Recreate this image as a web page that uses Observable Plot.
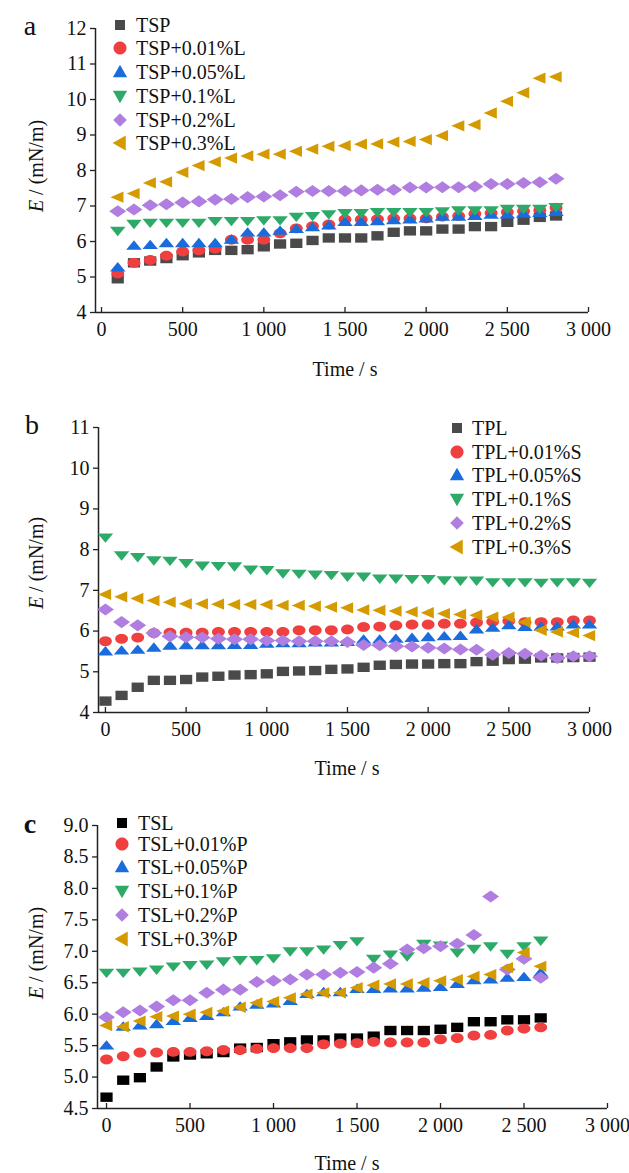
<!DOCTYPE html>
<html><head><meta charset="utf-8">
<script src="https://cdn.jsdelivr.net/npm/d3@7"></script>
<script src="https://cdn.jsdelivr.net/npm/@observablehq/plot@0.6"></script>
<style>
body{margin:0;background:#fff;}
#fig{position:relative;width:629px;height:1173px;font-family:"Liberation Serif","Times New Roman",serif;color:#111;overflow:hidden;}
.panel{position:absolute;left:0;}
.lbl{position:absolute;font-size:20px;white-space:nowrap;transform:translate(-50%,-50%);}
.ylbl{position:absolute;font-size:20px;white-space:nowrap;transform:translate(-50%,-50%) rotate(-90deg);}
.letter{position:absolute;font-size:28px;line-height:1;transform:translate(-50%,-50%);}
.row{position:absolute;display:flex;align-items:center;white-space:nowrap;font-size:20px;line-height:1;transform:translateY(-50%);}
.row svg{flex:none;}
</style>
</head><body><div id="fig"></div>
<script>
// ---------- data ----------
const timesA = [100,200,300,400,500,600,700,800,900,1000,1100,1200,1300,1400,1500,1600,1700,1800,1900,2000,2100,2200,2300,2400,2500,2600,2700,2800];
const namesA = ["TSP","TSP+0.01%L","TSP+0.05%L","TSP+0.1%L","TSP+0.2%L","TSP+0.3%L"];
const aTSP  = [4.95,5.4,5.45,5.52,5.6,5.68,5.75,5.75,5.77,5.85,5.93,5.95,6.03,6.1,6.1,6.1,6.16,6.26,6.3,6.3,6.35,6.35,6.42,6.42,6.54,6.6,6.68,6.72];
const aL001 = [5.1,5.4,5.48,5.6,5.72,5.75,5.8,6.05,6.05,6.05,6.23,6.37,6.43,6.48,6.62,6.62,6.63,6.65,6.65,6.65,6.7,6.72,6.78,6.8,6.83,6.85,6.88,6.95];
const aL005 = [5.27,5.88,5.9,5.95,5.95,5.95,5.95,6.05,6.25,6.25,6.3,6.35,6.4,6.45,6.55,6.55,6.57,6.6,6.62,6.65,6.7,6.7,6.72,6.75,6.76,6.78,6.8,6.83];
const aL01  = [6.3,6.5,6.53,6.53,6.53,6.53,6.58,6.58,6.58,6.6,6.6,6.7,6.72,6.77,6.8,6.8,6.83,6.83,6.83,6.83,6.85,6.88,6.88,6.88,6.92,6.92,6.92,6.97];
const aL02  = [6.85,6.9,7.02,7.05,7.1,7.13,7.18,7.2,7.25,7.27,7.3,7.4,7.42,7.42,7.42,7.44,7.46,7.46,7.52,7.52,7.53,7.53,7.55,7.62,7.62,7.65,7.67,7.77];
const aL03  = [7.25,7.35,7.65,7.68,7.95,8.14,8.24,8.35,8.41,8.46,8.46,8.54,8.6,8.68,8.7,8.74,8.75,8.8,8.82,8.87,8.98,9.26,9.29,9.62,9.95,10.19,10.6,10.64];

const timesB = [0,100,200,300,400,500,600,700,800,900,1000,1100,1200,1300,1400,1500,1600,1700,1800,1900,2000,2100,2200,2300,2400,2500,2600,2700,2800,2900,3000];
const namesB = ["TPL","TPL+0.01%S","TPL+0.05%S","TPL+0.1%S","TPL+0.2%S","TPL+0.3%S"];
const bTPL  = [4.28,4.42,4.62,4.79,4.79,4.81,4.87,4.89,4.92,4.93,4.95,5.01,5.02,5.03,5.06,5.07,5.11,5.16,5.18,5.19,5.19,5.2,5.2,5.25,5.26,5.3,5.31,5.34,5.34,5.35,5.36];
const bS001 = [5.75,5.81,5.84,5.95,5.96,5.96,5.96,5.98,5.98,5.98,5.98,5.98,6.02,6.02,6.02,6.04,6.1,6.11,6.14,6.16,6.16,6.18,6.18,6.21,6.23,6.25,6.22,6.22,6.22,6.26,6.26];
const bS005 = [5.5,5.52,5.54,5.59,5.64,5.65,5.65,5.65,5.66,5.66,5.69,5.7,5.7,5.72,5.72,5.73,5.79,5.79,5.81,5.83,5.85,5.87,5.88,6.04,6.08,6.14,6.1,6.11,6.11,6.16,6.16];
const bS01  = [8.3,7.86,7.82,7.74,7.73,7.67,7.61,7.6,7.59,7.51,7.5,7.42,7.41,7.39,7.38,7.34,7.34,7.29,7.29,7.28,7.28,7.25,7.24,7.24,7.2,7.2,7.2,7.19,7.2,7.2,7.19];
const bS02  = [6.53,6.22,6.14,5.95,5.87,5.85,5.84,5.81,5.8,5.8,5.77,5.77,5.75,5.75,5.75,5.73,5.66,5.65,5.63,5.62,5.59,5.57,5.55,5.54,5.42,5.46,5.44,5.4,5.34,5.38,5.38];
const bS03  = [6.9,6.84,6.8,6.75,6.71,6.67,6.67,6.66,6.65,6.65,6.65,6.63,6.63,6.61,6.59,6.57,6.52,6.51,6.49,6.47,6.45,6.43,6.41,6.39,6.34,6.34,6.22,6.02,5.98,5.96,5.89];

const timesC = [0,100,200,300,400,500,600,700,800,900,1000,1100,1200,1300,1400,1500,1600,1700,1800,1900,2000,2100,2200,2300,2400,2500,2600];
const namesC = ["TSL","TSL+0.01%P","TSL+0.05%P","TSL+0.1%P","TSL+0.2%P","TSL+0.3%P"];
const cTSL  = [4.68,4.95,4.99,5.16,5.32,5.35,5.37,5.39,5.46,5.47,5.53,5.56,5.59,5.59,5.62,5.62,5.65,5.74,5.74,5.74,5.76,5.79,5.88,5.88,5.91,5.91,5.94];
const cP001 = [5.28,5.33,5.39,5.39,5.4,5.4,5.41,5.43,5.43,5.45,5.46,5.46,5.46,5.52,5.53,5.54,5.56,5.55,5.55,5.55,5.6,5.62,5.66,5.67,5.74,5.77,5.79];
const cP005 = [5.5,5.8,5.82,5.84,5.89,5.94,5.97,6.03,6.12,6.15,6.17,6.21,6.32,6.35,6.35,6.4,6.4,6.41,6.41,6.42,6.43,6.48,6.54,6.55,6.58,6.59,6.66];
const cP01  = [6.66,6.66,6.68,6.71,6.76,6.78,6.79,6.84,6.86,6.86,6.89,7.0,7.0,7.03,7.1,7.16,6.88,6.95,6.92,7.12,7.09,6.98,7.04,7.08,6.96,7.08,7.17];
const cP02  = [5.95,6.03,6.06,6.12,6.22,6.22,6.34,6.39,6.39,6.51,6.53,6.55,6.63,6.63,6.66,6.67,6.74,6.8,7.03,7.05,7.08,7.12,7.26,7.87,6.71,6.88,6.58];
const cP03  = [5.82,5.8,5.89,5.96,5.97,6.0,6.03,6.05,6.11,6.18,6.2,6.26,6.32,6.34,6.34,6.42,6.46,6.48,6.48,6.5,6.53,6.55,6.6,6.63,6.74,6.98,6.76];

const xTicks = [0,500,1000,1500,2000,2500,3000];
const yTicksA = [4,5,6,7,8,9,10,11,12];
const yTicksB = [4,5,6,7,8,9,10,11];
const yTicksC = [4.5,5.0,5.5,6.0,6.5,7.0,7.5,8.0,8.5,9.0];

// ---------- styles ----------
const shapes = ["square","circle","up","down","diamond","left"];
const colorsAB = ["#4a4a4a","#ef3f3f","#1a6cdc","#2eaa68","#b07de0","#d49a00"];
const colorsC  = ["#000000","#ef3f3f","#1a6cdc","#2eaa68","#b07de0","#d49a00"];

function makeSym(shape, sx, legend) {
  return {draw(ctx, size) {
    const r = Math.sqrt(size / Math.PI);
    const P = pts => {
      ctx.moveTo(pts[0][0]*r*sx, pts[0][1]*r);
      for (let i = 1; i < pts.length; i++) ctx.lineTo(pts[i][0]*r*sx, pts[i][1]*r);
      ctx.closePath();
    };
    const tw = legend ? 1.15 : 1.27, dw = legend ? 1.1 : 1.39, dh = legend ? 1.1 : 1.28;
    if (shape === "square") P([[-1,-1],[1,-1],[1,1],[-1,1]]);
    else if (shape === "circle") { const pts = []; for (let i = 0; i < 40; i++) { const a = 2*Math.PI*i/40; pts.push([1.05*Math.cos(a), 1.05*Math.sin(a)]); } P(pts); }
    else if (shape === "up") P([[0,-1.15],[tw,0.85],[-tw,0.85]]);
    else if (shape === "down") P([[0,1.15],[tw,-0.85],[-tw,-0.85]]);
    else if (shape === "diamond") P([[0,-dh],[dw,0],[0,dh],[-dw,0]]);
    else if (shape === "left") P([[-1.2,0],[0.93,-1.2],[0.93,1.2]]);
  }};
}
const symData = Object.fromEntries(shapes.map(s => [s, makeSym(s, 1.3, false)]));
const symLeg  = Object.fromEntries(shapes.map(s => [s, makeSym(s, 1, true)]));

const fmtX = d => d >= 1000 ? d3.format(",")(d).replace(",", " ") : String(d);

const fig = document.getElementById("fig");
function addDiv(cls, html, x, y) {
  const d = document.createElement("div");
  d.className = cls; d.innerHTML = html;
  d.style.left = x + "px"; d.style.top = y + "px";
  fig.appendChild(d); return d;
}

function panel(cfg) {
  const marks = [
    Plot.ruleX([cfg.xDomain[0]], {stroke: "#222", strokeWidth: 1.5}),
    Plot.ruleY([cfg.yDomain[0]], {stroke: "#222", strokeWidth: 1.5}),
    Plot.axisX({ticks: xTicks, tickSize: -5, tickPadding: 14, tickFormat: fmtX, label: null, stroke: "#222", strokeWidth: 1.3, fill: "#111"}),
    Plot.axisY({ticks: cfg.yTicks, tickSize: 5, tickPadding: 4, tickFormat: cfg.yFmt, label: null, stroke: "#222", strokeWidth: 1.3, fill: "#111"})
  ];
  cfg.series.forEach((vals, i) => {
    const rows = vals.map((v, j) => ({t: cfg.times[j], e: v}));
    marks.push(Plot.dot(rows, {x: "t", y: "e", symbol: symData[shapes[i]], fill: cfg.colors[i], r: 4.7, stroke: "none"}));
  });
  const svg = Plot.plot({
    width: 629, height: cfg.height,
    marginLeft: cfg.ml, marginRight: cfg.mr, marginTop: cfg.mt, marginBottom: cfg.mb,
    x: {domain: cfg.xDomain},
    y: {domain: cfg.yDomain},
    style: {fontFamily: '"Liberation Serif", "Times New Roman", serif', fontSize: "20px", color: "#111", background: "transparent", overflow: "visible"},
    marks
  });
  const wrap = document.createElement("div");
  wrap.className = "panel"; wrap.style.top = cfg.top + "px";
  wrap.appendChild(svg); fig.appendChild(wrap);

  addDiv("letter", cfg.letter, cfg.letterPos[0], cfg.letterPos[1]).style.fontWeight = cfg.letterBold ? "700" : "400";
  addDiv("ylbl", "<i>E</i> / (mN/m)", cfg.yl[0], cfg.yl[1]);
  addDiv("lbl", "Time / s", cfg.xl[0], cfg.xl[1]);
  cfg.names.forEach((name, i) => {
    const p = d3.path();
    const rr = shapes[i] === "square" ? 5 : 6.2;
    symLeg[shapes[i]].draw(p, Math.PI * rr * rr);
    const html = `<svg width="16" height="16" viewBox="-8 -8 16 16"><path d="${p.toString()}" fill="${cfg.colors[i]}"/></svg><span style="margin-left:${cfg.leg.tx - cfg.leg.sx - 8}px">${name}</span>`;
    addDiv("row", html, cfg.leg.sx - 8, cfg.leg.rows[i]);
  });
}

panel({
  top: 0, height: 395, ml: 95, mr: 41, mt: 28, mb: 83,
  xDomain: [-37, 3000], yDomain: [4, 12], yTicks: yTicksA, yFmt: d => String(d),
  times: timesA, series: [aTSP, aL001, aL005, aL01, aL02, aL03], names: namesA, colors: colorsAB,
  letter: "a", letterPos: [30, 26], yl: [36, 166], xl: [345, 369],
  leg: {sx: 120, tx: 136, rows: [25, 48, 72, 96, 120, 143]}
});
panel({
  top: 395, height: 395, ml: 98, mr: 40, mt: 32, mb: 78,
  xDomain: [-43, 3000], yDomain: [4, 11], yTicks: yTicksB, yFmt: d => String(d),
  times: timesB, series: [bTPL, bS001, bS005, bS01, bS02, bS03], names: namesB, colors: colorsAB,
  letter: "b", letterPos: [32, 425], yl: [36, 563], xl: [347, 768],
  leg: {sx: 457, tx: 472, rows: [428, 452, 475, 499, 523, 547]}
});
panel({
  top: 790, height: 383, ml: 97, mr: 22, mt: 35, mb: 65,
  xDomain: [-54, 3000], yDomain: [4.5, 9], yTicks: yTicksC, yFmt: d3.format(".1f"),
  times: timesC, series: [cTSL, cP001, cP005, cP01, cP02, cP03], names: namesC, colors: colorsC,
  letter: "c", letterBold: true, letterPos: [30, 824], yl: [36, 953], xl: [347, 1163],
  leg: {sx: 122, tx: 138, rows: [823, 844, 867, 891, 915, 939]}
});
</script>
</body></html>
